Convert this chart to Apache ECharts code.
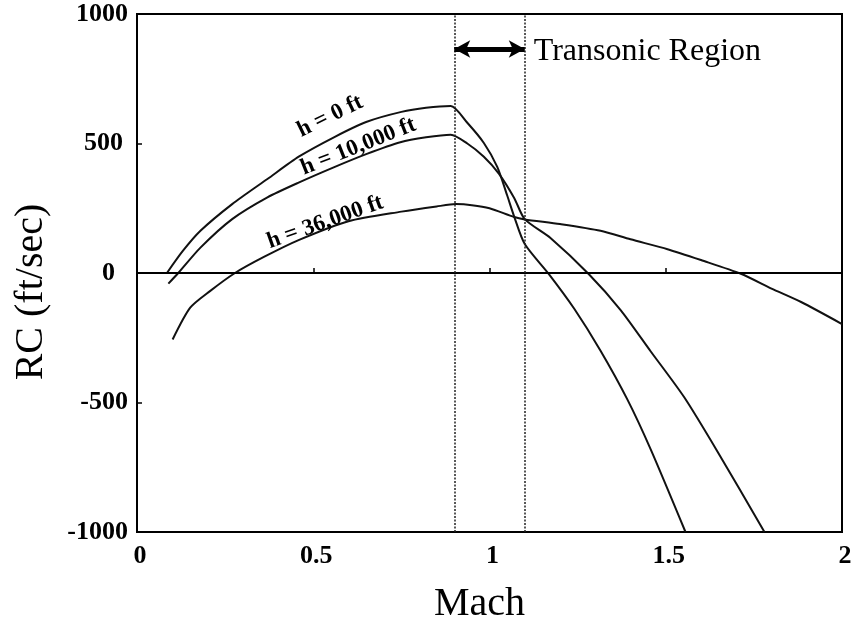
<!DOCTYPE html>
<html><head><meta charset="utf-8">
<script src="https://cdn.jsdelivr.net/npm/echarts@6/dist/echarts.min.js"></script>
<style>html,body{margin:0;padding:0;background:#fff}#c{width:852px;height:627px}</style>
</head><body><div id="c"></div>
<script>
// ---- data ----
const machH0  = [0.085,0.13,0.18,0.27,0.37,0.46,0.56,0.65,0.75,0.82,0.89,0.937,0.984,1.022,1.05,1.07,1.1,1.169,1.24,1.315,1.391,1.457,1.556];
const rcH0    = [0,85,163,266,363,450,525,583,622,638,645,580,502,410,300,218,112,-5,-137,-300,-488,-680,-1000];
const machH10 = [0.089,0.117,0.18,0.27,0.37,0.46,0.558,0.652,0.747,0.82,0.89,0.937,0.984,1.027,1.07,1.1,1.173,1.282,1.372,1.457,1.552,1.647,1.78];
const rcH10   = [-41,0,98,208,292,350,408,460,505,524,534,500,449,383,290,208,135,-5,-143,-302,-479,-690,-1000];
const machH36 = [0.101,0.151,0.207,0.278,0.36,0.46,0.6,0.75,0.85,0.905,0.95,1.0,1.07,1.1,1.2,1.315,1.4,1.505,1.6,1.713,1.8,1.884,2.0];
const rcH36   = [-257,-134,-70,0,62,128,200,237,257,266,262,250,216,207,189,163,130,92,50,-3,-60,-112,-197];
const seriesNames = ['h = 0 ft','h = 10,000 ft','h = 36,000 ft'];
const transonic = [0.9, 1.1];
const transonicLabel = 'Transonic Region';
const xTicks = [0, 0.5, 1, 1.5, 2];
const yTicks = [-1000, -500, 0, 500, 1000];

// annotation anchors (data coords) and angles
const labelAnchors = [[0.548, 605, 26], [0.628, 488, 21.8], [0.534, 196, 19.6]];
const arrowLevel = 865;

const serif = '"Liberation Serif","Times New Roman",serif';
const pairs = (xs, ys) => xs.map((x, i) => [x, ys[i]]);
const lineStyle = {color: '#111', width: 2};

const chart = echarts.init(document.getElementById('c'), null, {renderer: 'canvas'});
const mkSeries = (name, xs, ys) => ({
  name, type: 'line', data: pairs(xs, ys), showSymbol: false, symbol: 'none',
  smooth: 0.25, lineStyle, clip: true, z: 3
});
const yLabelStyle = {fontFamily: serif, fontWeight: 'bold', fontSize: 26, color: '#000'};
const option = {
  animation: false,
  backgroundColor: '#fff',
  grid: {left: 137, right: 10, top: 14, bottom: 95, show: true, borderColor: '#000', borderWidth: 2,
    backgroundColor: 'transparent', containLabel: false, outerBoundsMode: 'none'},
  xAxis: {
    type: 'value', min: 0, max: 2, interval: 0.5,
    name: 'Mach', nameLocation: 'middle', nameGap: 52,
    nameTextStyle: {fontFamily: serif, fontSize: 40, color: '#000', padding: [0, 20, 0, 0]},
    axisLine: {show: false},
    axisTick: {show: true, inside: true, length: 5, lineStyle: {color: '#000', width: 1.5}},
    axisLabel: {fontFamily: serif, fontWeight: 'bold', fontSize: 26, color: '#000', margin: 11,
      padding: [0, 0, 0, 6],
      formatter: v => xTicks.includes(v) ? String(v) : ''},
    splitLine: {show: false}
  },
  yAxis: {
    type: 'value', min: -1000, max: 1000, interval: 500,
    name: 'RC (ft/sec)', nameLocation: 'middle', nameGap: 86, nameRotate: 90,
    nameTextStyle: {fontFamily: serif, fontSize: 40, color: '#000', padding: [0, 38, 0, 0]},
    axisLine: {show: false},
    axisTick: {show: true, inside: true, length: 5, lineStyle: {color: '#000', width: 1.5}},
    axisLabel: {fontFamily: serif, fontWeight: 'bold', fontSize: 26, color: '#000', margin: 9,
      formatter: v => {
        if (!yTicks.includes(v)) return '';
        if (v === 0) return '{z|0}';
        if (v === 500) return '{f|500}';
        return String(v);
      },
      rich: {
        z: Object.assign({padding: [0, 13, 0, 0]}, yLabelStyle),
        f: Object.assign({padding: [0, 5, 0, 0]}, yLabelStyle)
      }},
    splitLine: {show: false}
  },
  series: [
    mkSeries(seriesNames[0], machH0, rcH0),
    mkSeries(seriesNames[1], machH10, rcH10),
    mkSeries(seriesNames[2], machH36, rcH36),
    {
      type: 'line', data: [], silent: true,
      markLine: {
        silent: true, symbol: 'none', animation: false,
        label: {show: false},
        data: [
          {yAxis: 0, lineStyle: {color: '#000', width: 2, type: 'solid'}},
          {xAxis: transonic[0], lineStyle: {color: '#222', width: 1.5, type: [2, 1.5]}},
          {xAxis: transonic[1], lineStyle: {color: '#222', width: 1.5, type: [2, 1.5]}},
          [{coord: [transonic[0], arrowLevel], symbol: 'arrow', symbolSize: [13, 16]},
           {coord: [transonic[1], arrowLevel], symbol: 'arrow', symbolSize: [13, 16],
            lineStyle: {color: '#000', width: 5, type: 'solid'}}]
        ]
      }
    }
  ]
};
chart.setOption(option);

const graphics = [];
labelAnchors.forEach((a, i) => {
  const p = chart.convertToPixel({gridIndex: 0}, [a[0], a[1]]);
  graphics.push({type: 'text', x: p[0], y: p[1], rotation: a[2] * Math.PI / 180,
    style: {text: seriesNames[i], font: 'bold 23px ' + serif, fill: '#000', align: 'center', verticalAlign: 'middle'}, z: 10});
});
const tp = chart.convertToPixel({gridIndex: 0}, [transonic[1], arrowLevel]);
graphics.push({type: 'text', x: tp[0] + 9, y: tp[1] + 3,
  style: {text: transonicLabel, font: '32px ' + serif, fill: '#000', align: 'left', verticalAlign: 'middle'}, z: 10});
chart.setOption({graphic: graphics});
</script>
</body></html>
